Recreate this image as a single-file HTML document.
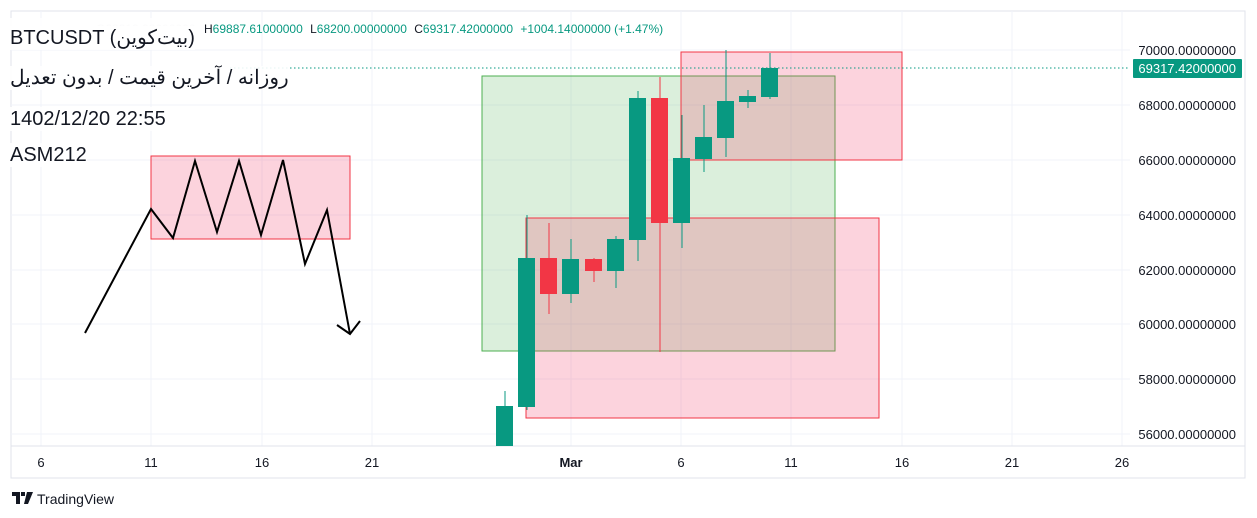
<!DOCTYPE html><html><head><meta charset="utf-8"><style>
body{margin:0;background:#fff;width:1257px;height:518px;overflow:hidden;font-family:"Liberation Sans","Noto Sans CJK SC",sans-serif;position:relative}
.t{position:absolute;left:10px;font-size:20px;color:#131722;background:rgba(255,255,255,0.9);white-space:nowrap;line-height:24px}
</style></head><body>
<svg width="1257" height="518" xmlns="http://www.w3.org/2000/svg" font-family="Liberation Sans, Noto Sans CJK SC, sans-serif" style="position:absolute;left:0;top:0">
<rect x="11" y="11" width="1234" height="467" fill="#fff" stroke="#e0e3eb"/>
<g stroke="#f0f3fa">
<line x1="11" x2="1130" y1="50" y2="50"/><line x1="11" x2="1130" y1="105" y2="105"/><line x1="11" x2="1130" y1="160" y2="160"/><line x1="11" x2="1130" y1="215" y2="215"/><line x1="11" x2="1130" y1="270" y2="270"/><line x1="11" x2="1130" y1="324" y2="324"/><line x1="11" x2="1130" y1="379" y2="379"/><line x1="11" x2="1130" y1="434" y2="434"/>
<line x1="41" x2="41" y1="11" y2="446"/><line x1="151" x2="151" y1="11" y2="446"/><line x1="262" x2="262" y1="11" y2="446"/><line x1="372" x2="372" y1="11" y2="446"/><line x1="571" x2="571" y1="11" y2="446"/><line x1="681" x2="681" y1="11" y2="446"/><line x1="791" x2="791" y1="11" y2="446"/><line x1="902" x2="902" y1="11" y2="446"/><line x1="1012" x2="1012" y1="11" y2="446"/><line x1="1122" x2="1122" y1="11" y2="446"/>
</g>
<line x1="11" x2="1245" y1="446" y2="446" stroke="#e0e3eb"/>
<rect x="482" y="76" width="353" height="275" fill="rgba(76,175,80,0.2)" stroke="#4caf50"/>
<rect x="526" y="218" width="353" height="200" fill="rgba(242,54,100,0.22)" stroke="#f23645"/>
<rect x="681" y="52" width="221" height="108" fill="rgba(242,54,100,0.22)" stroke="#f23645"/>
<rect x="151" y="156" width="199" height="83" fill="rgba(242,54,100,0.22)" stroke="#f23645"/>
<polyline points="85,333 151,209 173,238 195,161 217,232 239,161 261,235 283,160 305,264 327,210 350,334" fill="none" stroke="#000" stroke-width="2"/>
<polyline points="337,325 350,334 360,321" fill="none" stroke="#000" stroke-width="2"/>
<g fill="#089981" stroke="#089981">
<line x1="505" x2="505" y1="391" y2="446"/><rect x="496" y="406" width="17" height="40" stroke="none"/>
<line x1="527" x2="527" y1="215" y2="410"/><rect x="518" y="258" width="17" height="149" stroke="none"/>
<line x1="571" x2="571" y1="239" y2="303"/><rect x="562" y="259" width="17" height="35" stroke="none"/>
<line x1="616" x2="616" y1="236" y2="288"/><rect x="607" y="239" width="17" height="32" stroke="none"/>
<line x1="638" x2="638" y1="91" y2="261"/><rect x="629" y="98" width="17" height="142" stroke="none"/>
<line x1="682" x2="682" y1="115" y2="248"/><rect x="673" y="158" width="17" height="65" stroke="none"/>
<line x1="704" x2="704" y1="105" y2="172"/><rect x="695" y="137" width="17" height="22" stroke="none"/>
<line x1="726" x2="726" y1="50" y2="157"/><rect x="717" y="101" width="17" height="37" stroke="none"/>
<line x1="748" x2="748" y1="90" y2="108"/><rect x="739" y="96" width="17" height="6" stroke="none"/>
<line x1="770" x2="770" y1="53" y2="99"/><rect x="761" y="68" width="17" height="29" stroke="none"/>
</g>
<g fill="#f23645" stroke="#f23645">
<line x1="549" x2="549" y1="223" y2="314"/><rect x="540" y="258" width="17" height="36" stroke="none"/>
<line x1="594" x2="594" y1="258" y2="282"/><rect x="585" y="259" width="17" height="12" stroke="none"/>
<line x1="660" x2="660" y1="77" y2="352"/><rect x="651" y="98" width="17" height="125" stroke="none"/>
</g>
<line x1="230" x2="1130" y1="68" y2="68" stroke="#089981" stroke-dasharray="1.5,2.5"/>
<g font-size="13" fill="#131722" text-anchor="end">
<text x="1236" y="55">70000.00000000</text><text x="1236" y="110">68000.00000000</text><text x="1236" y="165">66000.00000000</text><text x="1236" y="220">64000.00000000</text><text x="1236" y="275">62000.00000000</text><text x="1236" y="329">60000.00000000</text><text x="1236" y="384">58000.00000000</text><text x="1236" y="439">56000.00000000</text>
</g>
<rect x="1133" y="59" width="109" height="19" fill="#089981" rx="1"/>
<text x="1236" y="73" font-size="13" fill="#fff" text-anchor="end">69317.42000000</text>
<g font-size="13" fill="#131722" text-anchor="middle">
<text x="41" y="467">6</text><text x="151" y="467">11</text><text x="262" y="467">16</text><text x="372" y="467">21</text><text x="571" y="467" font-weight="bold">Mar</text><text x="681" y="467">6</text><text x="791" y="467">11</text><text x="902" y="467">16</text><text x="1012" y="467">21</text><text x="1122" y="467">26</text>
</g>
<text x="96" y="33" font-size="12" fill="#d0d2d8">O68313.28000000</text>
<rect x="4" y="18" width="196" height="22" fill="#fff" opacity="0.9"/>
<text x="204" y="33" font-size="12" fill="#089981"><tspan fill="#131722">H</tspan>69887.61000000 <tspan fill="#131722" dx="4">L</tspan>68200.00000000 <tspan fill="#131722" dx="4">C</tspan>69317.42000000 <tspan dx="4">+1004.14000000 (+1.47%)</tspan></text>
<path d="M12 492h8v12h-4v-8h-4z M21 492h4v4h-4z M27 492h6l-5 12h-4z" fill="#131722"/>
<text x="37" y="504" font-size="14" fill="#131722">TradingView</text>
</svg>
<div class="t" style="top:26px">BTCUSDT (بیت‌کوین)</div>
<div class="t" style="top:66px;direction:rtl;unicode-bidi:embed">روزانه / آخرین قیمت / بدون تعدیل</div>
<div class="t" style="top:107px">1402/12/20 22:55</div>
<div class="t" style="top:143px">ASM212</div>
</body></html>
